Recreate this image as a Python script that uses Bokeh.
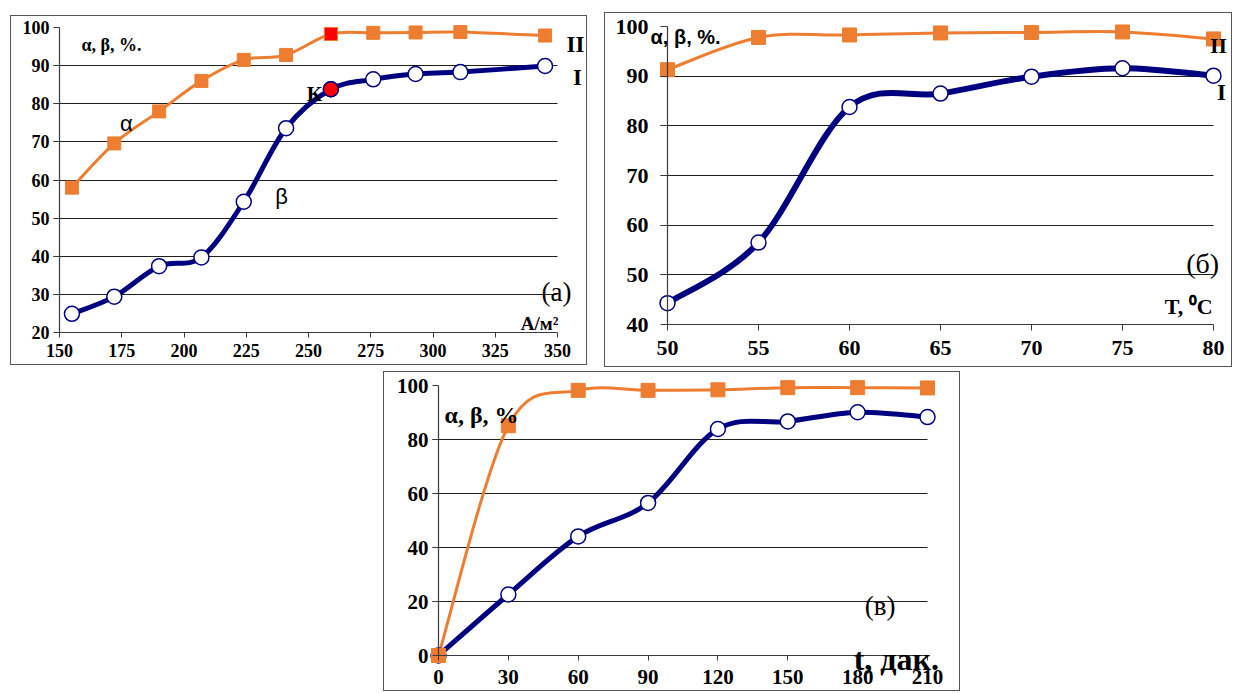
import numpy as np
from bokeh.plotting import figure
from bokeh.models import Label, FixedTicker, Range1d, ColumnDataSource
from bokeh.layouts import column, row
from bokeh.embed import file_html
from bokeh.resources import INLINE

ORANGE = "#ED7D31"
NAVY = "#000080"
RED = "#FF0000"
SERIF = "Liberation Serif"
SANS = "Liberation Sans"
AXIS = "#3a3a3a"
GRID = "#1e1e1e"

# ---------------- panel (а): current density, A/m2 ----------------
a_x = [155, 172, 190, 207, 224, 241, 259, 276, 293, 311, 345]
a_alpha = [58.0, 69.6, 78.0, 86.0, 91.5, 92.8, 98.3, 98.6, 98.7, 98.8, 97.9]
a_beta = [24.9, 29.4, 37.4, 39.7, 54.3, 73.6, 83.8, 86.4, 87.8, 88.3, 89.9]
a_k = 6  # highlighted point "К"
a_xticks = [150, 175, 200, 225, 250, 275, 300, 325, 350]
a_yticks = [20, 30, 40, 50, 60, 70, 80, 90, 100]

# ---------------- panel (б): temperature, °C ----------------
b_x = [50, 55, 60, 65, 70, 75, 80]
b_alpha = [91.3, 97.8, 98.3, 98.7, 98.8, 98.9, 97.5]
b_beta = [44.3, 56.5, 83.8, 86.5, 89.9, 91.6, 90.1]
b_xticks = [50, 55, 60, 65, 70, 75, 80]
b_yticks = [40, 50, 60, 70, 80, 90, 100]

# ---------------- panel (в): time, min ----------------
c_x = [0, 30, 60, 90, 120, 150, 180, 210]
c_alpha = [0.0, 85.1, 98.2, 98.2, 98.4, 99.2, 99.2, 99.1]
c_beta = [0.0, 22.6, 44.1, 56.5, 83.9, 86.7, 90.1, 88.3]
c_xticks = [0, 30, 60, 90, 120, 150, 180, 210]
c_yticks = [0, 20, 40, 60, 80, 100]


def smooth(x, y):
    """Bezier control points (Catmull-Rom style, like spreadsheet 'smoothed line')."""
    x = np.asarray(x, float)
    y = np.asarray(y, float)
    n = len(x)
    xp = np.concatenate([[x[0]], x, [x[-1]]])
    yp = np.concatenate([[y[0]], y, [y[-1]]])
    return ColumnDataSource(dict(
        x0=x[:-1], y0=y[:-1], x1=x[1:], y1=y[1:],
        cx0=x[:-1] + (xp[2:n + 1] - xp[0:n - 1]) / 6.0,
        cy0=y[:-1] + (yp[2:n + 1] - yp[0:n - 1]) / 6.0,
        cx1=x[1:] - (xp[3:n + 2] - xp[1:n]) / 6.0,
        cy1=y[1:] - (yp[3:n + 2] - yp[1:n]) / 6.0,
    ))


def make_panel(width, height, xticks, yticks, area, font_px,
               y_tick_out, y_standoff, x_tick_out, x_standoff):
    # area: pixel box of the axes inside the canvas (left, right, top, bottom)
    ax_l, ax_r, ax_t, ax_b = area
    xlo, xhi = xticks[0], xticks[-1]
    ylo, yhi = yticks[0], yticks[-1]
    ppx = (ax_r - ax_l) / (xhi - xlo)
    ppy = (ax_b - ax_t) / (yhi - ylo)
    p = figure(width=width, height=height,
               x_range=Range1d(xlo - ax_l / ppx, xhi + (width - ax_r) / ppx),
               y_range=Range1d(ylo - (height - ax_b) / ppy, yhi + ax_t / ppy),
               output_backend="svg", toolbar_location=None,
               min_border=0, min_border_left=0, min_border_right=0,
               min_border_top=0, min_border_bottom=0,
               outline_line_color=None, background_fill_color="white",
               border_fill_color="white",
               styles={"border": "1px solid #555555"})
    p.xaxis.fixed_location = ylo
    p.yaxis.fixed_location = xlo
    p.xaxis.bounds = (xlo, xhi)
    p.yaxis.bounds = (ylo, yhi)
    p.xaxis.ticker = FixedTicker(ticks=xticks)
    p.yaxis.ticker = FixedTicker(ticks=yticks)
    for ax in (p.xaxis[0], p.yaxis[0]):
        ax.major_label_text_font = SERIF
        ax.major_label_text_font_style = "bold"
        ax.major_label_text_font_size = f"{font_px}px"
        ax.major_label_text_color = "black"
        ax.axis_line_color = AXIS
        ax.axis_line_width = 1.2
        ax.major_tick_line_color = AXIS
        ax.minor_tick_line_color = None
        ax.major_tick_in = 0
    p.yaxis.major_tick_out = y_tick_out
    p.yaxis.major_label_standoff = y_standoff
    p.xaxis.major_tick_out = x_tick_out
    p.xaxis.major_label_standoff = x_standoff
    p.xgrid.visible = False
    p.ygrid.ticker = FixedTicker(ticks=yticks[1:-1])
    p.ygrid.grid_line_color = GRID
    p.ygrid.grid_line_width = 1
    p.ygrid.cross_bounds = (xlo - y_tick_out / ppx, xhi)
    return p


def draw_series(p, x, alpha, beta, sq, circ, ow, bw):
    p.bezier(source=smooth(x, beta), x0="x0", y0="y0", x1="x1", y1="y1",
             cx0="cx0", cy0="cy0", cx1="cx1", cy1="cy1",
             line_color=NAVY, line_width=bw, line_cap="round")
    p.bezier(source=smooth(x, alpha), x0="x0", y0="y0", x1="x1", y1="y1",
             cx0="cx0", cy0="cy0", cx1="cx1", cy1="cy1",
             line_color=ORANGE, line_width=ow, line_cap="round")
    p.scatter(x, beta, marker="circle", size=circ, fill_color="white",
              line_color=NAVY, line_width=1.5)
    p.scatter(x, alpha, marker="square", size=sq, fill_color=ORANGE,
              line_color=ORANGE)


def lab(p, x, y, text, size, font=SERIF, style="bold", align="center"):
    p.add_layout(Label(x=x, y=y, text=text, text_font=font,
                       text_font_style=style, text_font_size=f"{size}px",
                       text_align=align, text_baseline="middle",
                       text_color="black"))


# ---- (а)
pa = make_panel(577, 350, a_xticks, a_yticks, (48, 546, 11, 316),
                18, 6, 4, 5, 6)
draw_series(pa, a_x, a_alpha, a_beta, 13, 15, 3, 5)
pa.scatter([a_x[a_k]], [a_beta[a_k]], marker="circle", size=15,
           fill_color=RED, line_color=NAVY, line_width=1.5)
pa.scatter([a_x[a_k]], [a_alpha[a_k]], marker="square", size=13,
           fill_color=RED, line_color=ORANGE)
lab(pa, 158.8, 95.3, "α, β, %.", 18, align="left")
lab(pa, 176.9, 74.8, "α", 22, font=SANS, style="normal")
lab(pa, 239.2, 55.6, "β", 22, font=SANS, style="normal")
lab(pa, 252.4, 82.6, "К", 21)
lab(pa, 357.2, 95.5, "II", 23)
lab(pa, 358.0, 86.9, "I", 23)
lab(pa, 349.6, 30.7, "(а)", 27, style="normal")
lab(pa, 350.4, 22.4, "А/м²", 19, align="right")
pa.margin = (15, 0, 0, 10)

# ---- (б)
pb = make_panel(628, 355, b_xticks, b_yticks, (62, 608, 13, 311),
                22, 7, 12, 6, 10)
draw_series(pb, b_x, b_alpha, b_beta, 14, 15, 3, 6)
lab(pb, 49.07, 97.8, "α, β, %.", 20, font=SANS, align="left")
lab(pb, 80.75, 96.2, "II", 22, align="right")
lab(pb, 80.44, 86.7, "I", 23)
lab(pb, 79.4, 52.3, "(б)", 28, style="normal")
lab(pb, 79.95, 43.7, "T, ⁰C", 22, align="right")
pb.margin = (12, 0, 0, 17)

# ---- (в)
pc = make_panel(577, 320, c_xticks, c_yticks, (54, 543, 13, 283),
                21, 6, 4, 5, 9)
draw_series(pc, c_x, c_alpha, c_beta, 14, 15, 3, 5)
lab(pc, 2.6, 89.2, "α, β, %", 24, align="left")
lab(pc, 189.7, 18.3, "(в)", 27, style="normal")
lab(pc, 214.9, -1.3, "t, дак.", 32, align="right")
pc.margin = (4, 0, 0, 383)

layout = column(row(pa, pb), pc)
open("out.html", "w").write(file_html(layout, INLINE))
